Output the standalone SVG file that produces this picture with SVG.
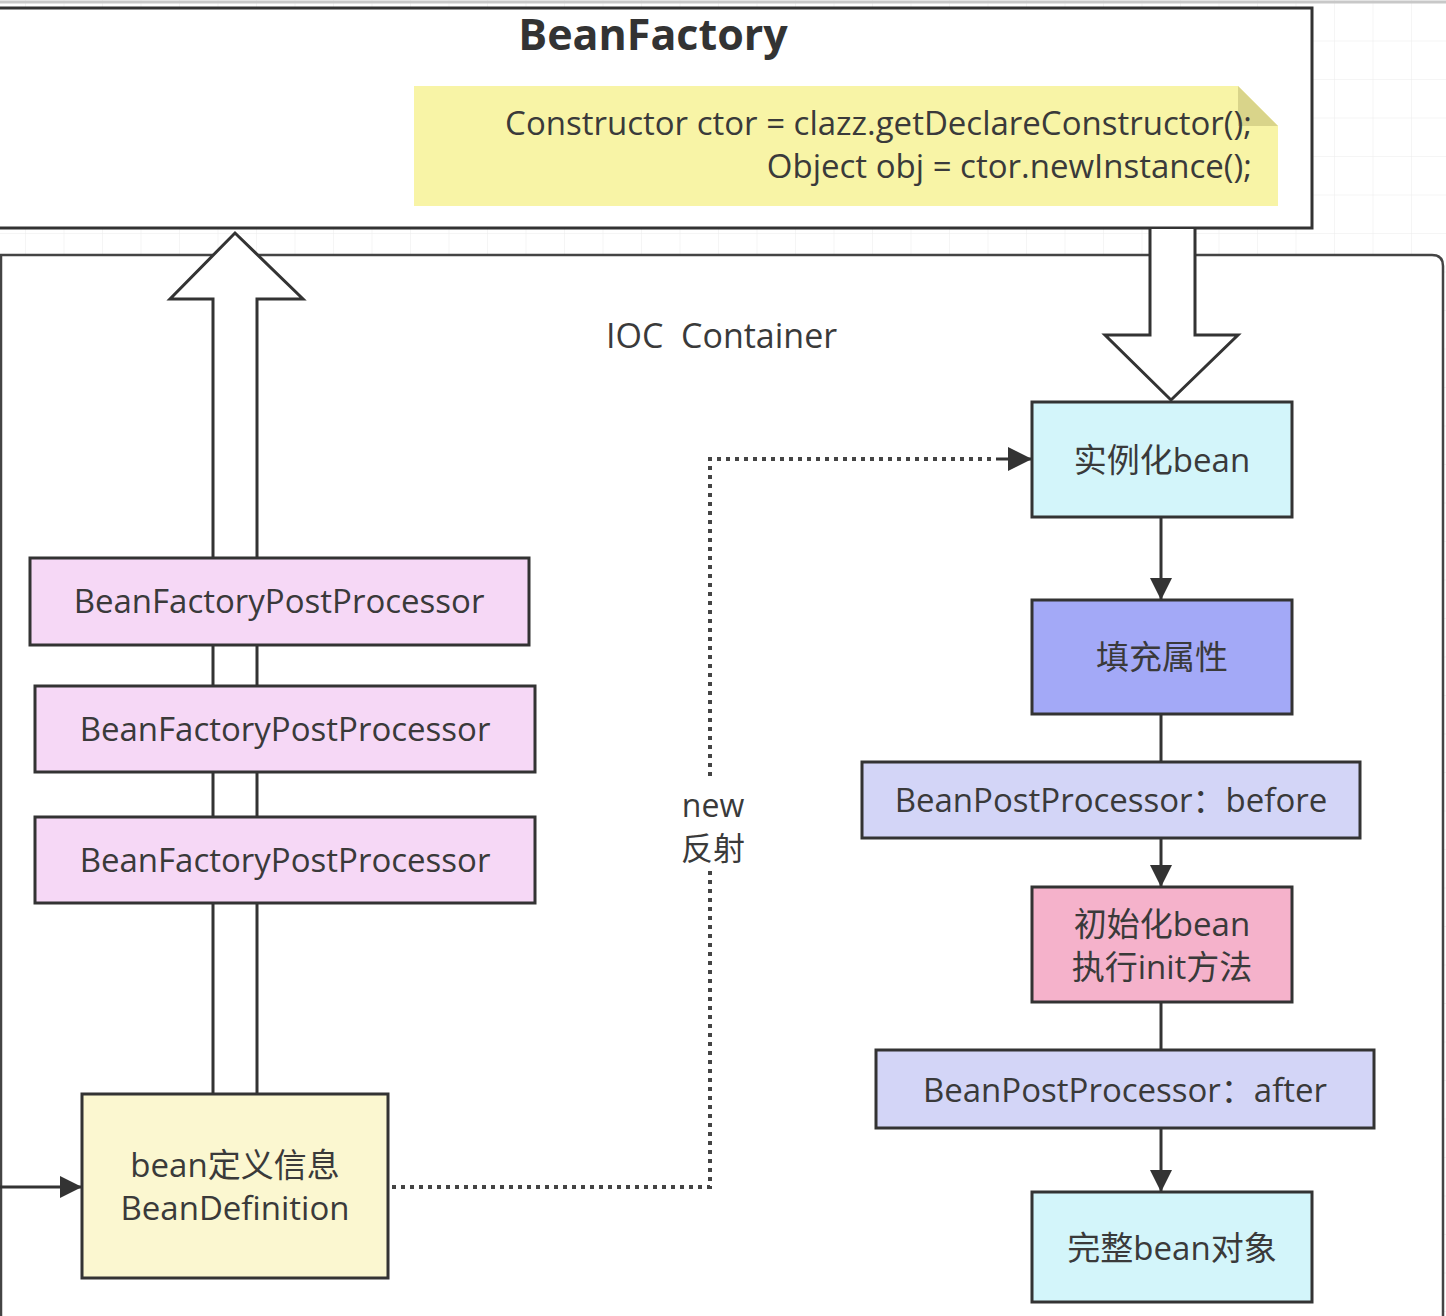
<svg xmlns="http://www.w3.org/2000/svg" width="1446" height="1316" viewBox="0 0 1446 1316">
<defs>
<pattern id="grid" x="25" y="2" width="38.5" height="38.5" patternUnits="userSpaceOnUse">
<path d="M 38.5 0 L 0 0 0 38.5" fill="none" stroke="#ececec" stroke-width="1"/>
</pattern>
<marker id="arr" viewBox="0 0 20 20" refX="20" refY="10" markerWidth="28" markerHeight="22" markerUnits="userSpaceOnUse" orient="auto">
<path d="M0,0 L20,10 L0,20 Z" fill="#333"/>
</marker>
<marker id="arrd" viewBox="0 0 20 20" refX="20" refY="10" markerWidth="36" markerHeight="24" markerUnits="userSpaceOnUse" orient="auto">
<path d="M0,0 L20,10 L0,20 Z" fill="#333"/>
</marker>
</defs>
<style>
text{font-family:"Open Sans","Noto Sans CJK SC",sans-serif;fill:#3a3a3a;}
.lbl{font-size:33px;text-anchor:middle;}
.box{stroke:#333;stroke-width:3;}
.conn{stroke:#333;stroke-width:3;fill:none;}
.dot{stroke:#444;stroke-width:4;fill:none;stroke-dasharray:4 5;}
.hollow{fill:#fff;stroke:#333;stroke-width:3;stroke-linejoin:miter;}
</style>
<rect x="0" y="0" width="1446" height="1316" fill="#fff"/>
<rect x="0" y="0" width="1446" height="1316" fill="url(#grid)"/>
<line x1="0" y1="2" x2="1446" y2="2" stroke="#c8c8c8" stroke-width="3"/>

<g id="ioc-container">
<path d="M1,255 L1432,255 Q1443,255 1443,266 L1443,1330 L1,1330 Z" fill="#fff" stroke="#444" stroke-width="2.5"/>
<text x="606" y="348" style="font-size:34px;" xml:space="preserve">IOC  Container</text>
</g>

<g id="beanfactory">
<rect x="-10" y="8" width="1322" height="220" fill="#fff" stroke="#333" stroke-width="3"/>
<text x="653" y="50" style="font-size:43px;font-weight:bold;text-anchor:middle;fill:#333;">BeanFactory</text>
</g>

<g id="note">
<path d="M414,86 L1238,86 L1278,126 L1278,206 L414,206 Z" fill="#f8f4a6"/>
<path d="M1238,86 L1278,126 L1238,126 Z" fill="#d9d48a"/>
<text x="1252" y="135" style="font-size:33px;text-anchor:end;">Constructor ctor = clazz.getDeclareConstructor();</text>
<text x="1252" y="178" style="font-size:33px;text-anchor:end;">Object obj = ctor.newInstance();</text>
</g>

<g id="connectors">
<path class="hollow" d="M213,1094 L213,299 L170,299 L235,233 L303,299 L257,299 L257,1094"/>
<path class="hollow" d="M1150,229 L1150,335 L1105,335 L1171,400 L1238,335 L1195,335 L1195,229"/>
<line class="conn" x1="0" y1="1187" x2="82" y2="1187" marker-end="url(#arr)"/>
<path class="dot" d="M392,1187 L710,1187 L710,459 L996,459"/>
<line class="conn" x1="996" y1="459" x2="1032" y2="459" stroke-width="0" marker-end="url(#arrd)"/>
<line class="conn" x1="1161" y1="517" x2="1161" y2="600" marker-end="url(#arr)"/>
<line class="conn" x1="1161" y1="714" x2="1161" y2="762"/>
<line class="conn" x1="1161" y1="838" x2="1161" y2="887" marker-end="url(#arr)"/>
<line class="conn" x1="1161" y1="1002" x2="1161" y2="1050"/>
<line class="conn" x1="1161" y1="1128" x2="1161" y2="1192" marker-end="url(#arr)"/>
<rect x="670" y="778" width="86" height="90" fill="#fff"/>
<text class="lbl" x="713" y="817" style="font-size:32px;">new</text>
<text class="lbl" x="713" y="860" style="font-size:32px;">反射</text>
</g>

<g id="bfpp1">
<rect class="box" x="30" y="558" width="499" height="87" fill="#f6d8f6"/>
<text class="lbl" x="279" y="613">BeanFactoryPostProcessor</text>
</g>
<g id="bfpp2">
<rect class="box" x="35" y="686" width="500" height="86" fill="#f6d8f6"/>
<text class="lbl" x="285" y="741">BeanFactoryPostProcessor</text>
</g>
<g id="bfpp3">
<rect class="box" x="35" y="817" width="500" height="86" fill="#f6d8f6"/>
<text class="lbl" x="285" y="872">BeanFactoryPostProcessor</text>
</g>
<g id="beandefinition">
<rect class="box" x="82" y="1094" width="306" height="184" fill="#fbf7d0"/>
<text class="lbl" x="235" y="1177">bean定义信息</text>
<text class="lbl" x="235" y="1220">BeanDefinition</text>
</g>

<g id="instantiate">
<rect class="box" x="1032" y="402" width="260" height="115" fill="#d3f5fa"/>
<text class="lbl" x="1162" y="472">实例化bean</text>
</g>
<g id="populate">
<rect class="box" x="1032" y="600" width="260" height="114" fill="#a3a9f7"/>
<text class="lbl" x="1162" y="669">填充属性</text>
</g>
<g id="bpp-before">
<rect class="box" x="862" y="762" width="498" height="76" fill="#d3d5f7"/>
<text class="lbl" x="1111" y="812">BeanPostProcessor：before</text>
</g>
<g id="init">
<rect class="box" x="1032" y="887" width="260" height="115" fill="#f5b2cb"/>
<text class="lbl" x="1162" y="936">初始化bean</text>
<text class="lbl" x="1162" y="979">执行init方法</text>
</g>
<g id="bpp-after">
<rect class="box" x="876" y="1050" width="498" height="78" fill="#d3d5f7"/>
<text class="lbl" x="1125" y="1102">BeanPostProcessor：after</text>
</g>
<g id="complete">
<rect class="box" x="1032" y="1192" width="280" height="110" fill="#d3f5fa"/>
<text class="lbl" x="1172" y="1260">完整bean对象</text>
</g>
</svg>
